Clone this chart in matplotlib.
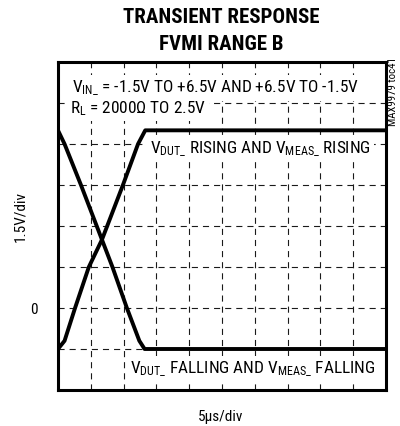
import matplotlib
matplotlib.use("Agg")
import matplotlib.pyplot as plt
from matplotlib import font_manager

# --- data -------------------------------------------------------------
# time in microseconds, voltage in volts
t_rise = [0, 1.0, 2.6, 4.7, 6.7, 9.9, 12.2, 13.3, 50]
v_rise = [-1.5, -1.2, 0.0, 1.5, 2.5, 4.5, 6.0, 6.5, 6.5]
t_fall = [0, 1.0, 3.5, 6.7, 8.3, 10.5, 12.4, 13.2, 50]
v_fall = [6.5, 6.0, 4.5, 2.5, 1.5, 0.0, -1.2, -1.5, -1.5]

x_div = 5.0      # us per division
y_div = 1.5      # V per division
x_range = (0, 50)
y_range = (-3, 9)

title_lines = ["TRANSIENT RESPONSE", "FVMI RANGE B"]
cond_line1 = r"V$_{\mathrm{IN\_}}$ = -1.5V TO +6.5V AND +6.5V TO -1.5V"
cond_line2 = r"R$_{\mathrm{L}}$ = 2000Ω TO 2.5V"
rise_label = r"V$_{\mathrm{DUT\_}}$ RISING AND V$_{\mathrm{MEAS\_}}$ RISING"
fall_label = r"V$_{\mathrm{DUT\_}}$ FALLING AND V$_{\mathrm{MEAS\_}}$ FALLING"
y_label = "1.5V/div"
x_label = "5μs/div"
doc_tag = "MAX9979 toc41"

# --- fonts ------------------------------------------------------------
names = {f.name for f in font_manager.fontManager.ttflist}
narrow = next((n for n in ("Roboto Condensed", "Archivo Narrow", "Liberation Sans")
               if n in names), "DejaVu Sans")
plt.rcParams["font.family"] = [narrow, "DejaVu Sans"]
plt.rcParams["mathtext.fontset"] = "custom"
plt.rcParams["mathtext.rm"] = narrow
plt.rcParams["mathtext.it"] = narrow
plt.rcParams["mathtext.bf"] = narrow + ":bold"

W, H = 400, 426
fig = plt.figure(figsize=(W / 100, H / 100), dpi=100)


def fx(px):
    return px / W


def fy(py):
    return 1 - py / H


L, R, T, B = 58, 386, 62, 390
ax = fig.add_axes([fx(L), fy(B), fx(R) - fx(L), fy(T) - fy(B)])
ax.set_xlim(*x_range)
ax.set_ylim(*y_range)

# dashed graticule
gk = dict(color="#1a1a1a", lw=0.8, dashes=(5.5, 4.5), zorder=1)
x = x_range[0] + x_div
while x < x_range[1] - 1e-9:
    ax.axvline(x, **gk)
    x += x_div
y = y_range[0] + y_div
while y < y_range[1] - 1e-9:
    ax.axhline(y, **gk)
    y += y_div

# traces
ax.plot(t_rise, v_rise, color="black", lw=2.8, solid_joinstyle="round", zorder=6)
ax.plot(t_fall, v_fall, color="black", lw=2.8, solid_joinstyle="round", zorder=6)

ax.set_xticks([])
ax.set_yticks([0])
ax.set_yticklabels(["0"], fontsize=11)
ax.tick_params(axis="y", length=0, pad=15)
for s in ax.spines.values():
    s.set_linewidth(2.2)
    s.set_zorder(8)

box = dict(facecolor="white", edgecolor="none", pad=2.5)
fs = 12.4


def axt(px, py, s, **kw):
    # place text by pixel position inside the axes
    xa = (px - L) / (R - L)
    ya = (B - py) / (B - T)
    return ax.text(xa, ya, s, transform=ax.transAxes, va="baseline", ha="left",
                   fontsize=fs, bbox=box, zorder=4, **kw)


axt(72, 92, cond_line1)
axt(70, 113, cond_line2)
axt(150, 153, rise_label)
axt(130, 373, fall_label)

# titles and outer labels
fig.text(fx(221), fy(23), title_lines[0], ha="center", va="baseline",
         fontsize=15, fontweight="bold")
fig.text(fx(221), fy(50), title_lines[1], ha="center", va="baseline",
         fontsize=15, fontweight="bold")
fig.text(fx(20), fy(216), y_label, rotation=90, ha="center", va="center", fontsize=11)
fig.text(fx(221), fy(421), x_label, ha="center", va="baseline", fontsize=11)
fig.text(fx(393), fy(92), doc_tag, rotation=90, ha="center", va="center", fontsize=7.8)

fig.savefig("out.png", dpi=100)
